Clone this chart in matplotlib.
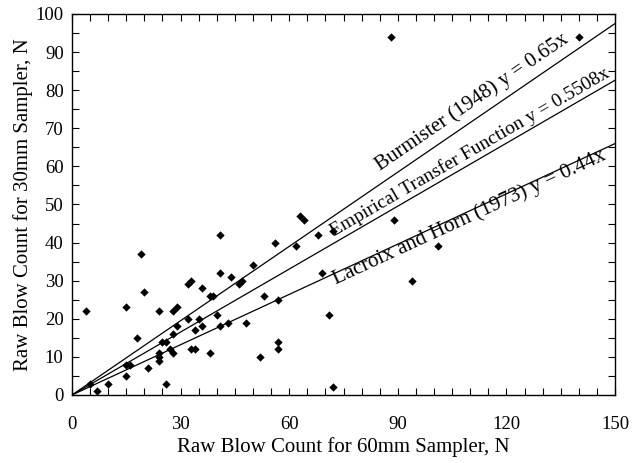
import numpy as np
import matplotlib
matplotlib.use('Agg')
import matplotlib.pyplot as plt
from matplotlib.ticker import MultipleLocator

plt.rcParams['font.family'] = ['Liberation Serif', 'DejaVu Serif']

# Raw blow counts
n60 = [4, 5, 7, 10, 15, 15, 16, 15, 18, 19, 20, 21, 24, 24, 24, 24, 25, 26, 26,
       27, 28, 28, 28, 29, 29, 32, 32, 33, 34, 33, 34, 35, 36, 36, 38, 38, 39,
       40, 41, 41, 41, 43, 44, 46, 47, 48, 50, 52, 53, 56, 57, 57, 57, 62, 63,
       64, 68, 69, 71, 72, 72, 88, 89, 94, 101, 140]
n30 = [22, 3, 1, 3, 5, 8, 8, 23, 15, 37, 27, 7, 22, 11, 10, 9, 14, 14, 3,
       12, 11, 16, 22, 23, 18, 20, 29, 30, 17, 12, 12, 20, 28, 18, 11, 26, 26,
       21, 42, 32, 18, 19, 31, 29, 30, 19, 34, 10, 26, 40, 25, 14, 12, 39, 47,
       46, 42, 32, 21, 43, 2, 94, 46, 30, 39, 94]

# Correlation lines: slope, label, label start x, label offset in y, label size
slopes = [0.65, 0.5508, 0.44]
labels = ['Burmister (1948) y = 0.65x',
          'Empirical Transfer Function y = 0.5508x',
          'Lacroix and Horn (1973) y = 0.44x']
label_x = [85.0, 72.5, 73.0]
label_dy = [3.7, 1.6, -3.0]
label_fs = [15, 14, 15.3]

fig = plt.figure(figsize=(6.33, 4.63), dpi=100)
ax = fig.add_axes([0.1137, 0.1469, 0.858, 0.8229])

xl = np.array([0, 150])
for s in slopes:
    ax.plot(xl, s * xl, color='black', linewidth=0.9)

ax.scatter(n60, n30, marker='D', s=18, color='black', linewidths=0, zorder=3)

for s, lab, lx, dy, fs in zip(slopes, labels, label_x, label_dy, label_fs):
    ax.text(lx, s * lx + dy, lab, rotation=np.degrees(np.arctan(s)),
            transform_rotates_text=True, rotation_mode='anchor',
            ha='left', va='baseline', fontsize=fs)

ax.set_xlim(0, 150)
ax.set_ylim(0, 100)
ax.xaxis.set_major_locator(MultipleLocator(30))
ax.xaxis.set_minor_locator(MultipleLocator(5))
ax.yaxis.set_major_locator(MultipleLocator(10))
ax.yaxis.set_minor_locator(MultipleLocator(5))
ax.tick_params(which='both', direction='in', top=True, right=True,
               length=5, width=0.8, labelsize=13.5)
ax.tick_params(axis='x', pad=15)
ax.tick_params(axis='y', pad=6)
for sp in ax.spines.values():
    sp.set_linewidth(1.0)

ax.set_xlabel('Raw Blow Count for 60mm Sampler, N', fontsize=15, labelpad=3)
ax.set_ylabel('Raw Blow Count for 30mm Sampler, N', fontsize=15, labelpad=2)

plt.savefig('out.png', dpi=100)
plt.close()
